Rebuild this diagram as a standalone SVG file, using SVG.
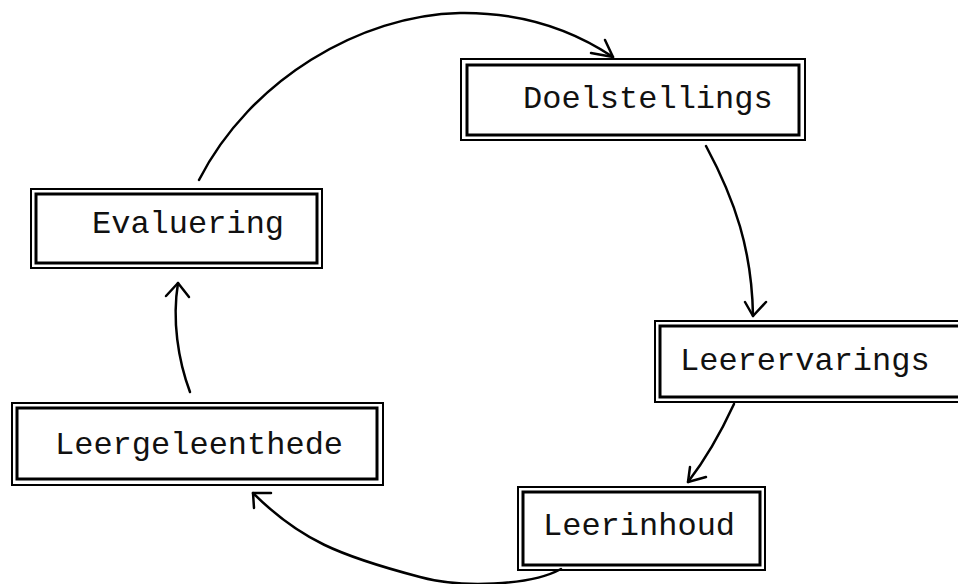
<svg xmlns="http://www.w3.org/2000/svg" width="958" height="584" viewBox="0 0 958 584">
  <style>
    .outer { fill: none; stroke: #000; stroke-width: 2; }
    .inner { fill: none; stroke: #000; stroke-width: 3; }
    .label { font-family: "Liberation Mono", "Courier New", monospace; font-size: 32px; fill: #111; }
    .link { fill: none; stroke: #000; stroke-width: 2.5; stroke-linecap: round; stroke-linejoin: round; }
  </style>
  <rect width="958" height="584" fill="#fff"/>

  <g id="doelstellings">
    <rect class="outer" x="461" y="59" width="344" height="81"/>
    <rect class="inner" x="467" y="65" width="332" height="70"/>
    <text class="label" x="523" y="108">Doelstellings</text>
  </g>

  <g id="evaluering">
    <rect class="outer" x="31" y="189" width="291" height="79"/>
    <rect class="inner" x="36" y="194" width="281" height="69"/>
    <text class="label" x="92" y="233">Evaluering</text>
  </g>

  <g id="leerervarings">
    <rect class="outer" x="655" y="321" width="320" height="81"/>
    <rect class="inner" x="660" y="326" width="310" height="71"/>
    <text class="label" x="680" y="370">Leerervarings</text>
  </g>

  <g id="leergeleenthede">
    <rect class="outer" x="12" y="403" width="371" height="82"/>
    <rect class="inner" x="17" y="408" width="360" height="71"/>
    <text class="label" x="55" y="454">Leergeleenthede</text>
  </g>

  <g id="leerinhoud">
    <rect class="outer" x="518" y="487" width="247" height="83"/>
    <rect class="inner" x="523" y="492" width="237" height="73"/>
    <text class="label" x="543" y="535">Leerinhoud</text>
  </g>

  <g id="connectors">
    <!-- Evaluering to Doelstellings -->
    <path class="link" d="M199,180 C250,80 360,15 460,13 C530,12 580,35 613,57"/>
    <path class="link" d="M605,40 L613,57 L591,53"/>
    <!-- Doelstellings to Leerervarings -->
    <path class="link" d="M706,146 C735,200 752,250 753,316"/>
    <path class="link" d="M745,302 L753,316 L766,302"/>
    <!-- Leerervarings to Leerinhoud -->
    <path class="link" d="M734,404 C722,430 705,460 688,482"/>
    <path class="link" d="M690,467 L688,482 L706,477"/>
    <!-- Leerinhoud to Leergeleenthede -->
    <path class="link" d="M561,569 C530,586 460,588 420,577 C340,556 300,540 253,493"/>
    <path class="link" d="M254,508 L253,493 L271,493"/>
    <!-- Leergeleenthede to Evaluering -->
    <path class="link" d="M190,392 C178,360 172,320 178,283"/>
    <path class="link" d="M166,296 L178,283 L189,297"/>
  </g>
</svg>
